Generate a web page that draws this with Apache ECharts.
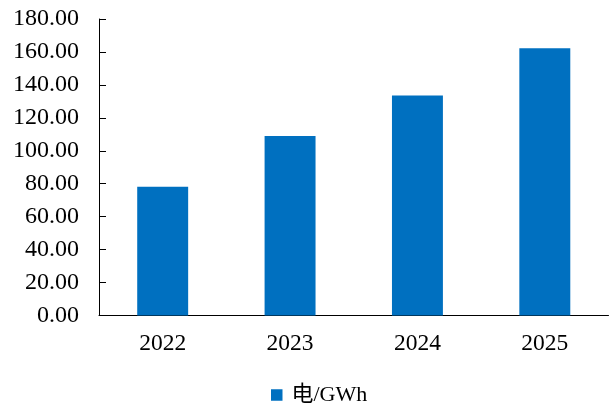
<!DOCTYPE html>
<html>
<head>
<meta charset="utf-8">
<script src="https://cdn.jsdelivr.net/npm/echarts@6/dist/echarts.min.js"></script>
<style>
  html, body { margin: 0; padding: 0; background: #fff; }
  #chart { width: 614px; height: 408px; }
</style>
</head>
<body>
<div id="chart"></div>
<script>
// Yearly electricity figures (GWh)
const years = ['2022', '2023', '2024', '2025'];
const power = [78.2, 109.0, 133.5, 162.2];
const seriesName = '电/GWh';
const yMin = 0, yMax = 180, yStep = 20;

const serif = '"Liberation Serif", "Times New Roman", "Noto Sans CJK SC", serif';
const chart = echarts.init(document.getElementById('chart'), null, { renderer: 'canvas' });

chart.setOption({
  animation: false,
  backgroundColor: '#ffffff',
  grid: { left: 99, right: 5.5, top: 19, bottom: 92.5, containLabel: false },
  legend: {
    data: [seriesName],
    left: 271,
    top: 384,
    padding: 0,
    icon: 'rect',
    itemWidth: 11.5,
    itemHeight: 11.5,
    textStyle: { fontFamily: serif, fontSize: 22, color: '#000', padding: [0, 0, 0, 4] }
  },
  xAxis: {
    type: 'category',
    data: years,
    boundaryGap: true,
    axisLine: { lineStyle: { color: '#000', width: 1 } },
    axisTick: { inside: true, length: 7, lineStyle: { color: '#000' } },
    axisLabel: { fontFamily: serif, fontSize: 23.5, color: '#000', margin: 17 }
  },
  yAxis: {
    type: 'value',
    min: yMin,
    max: yMax,
    interval: yStep,
    splitLine: { show: false },
    axisLine: { show: true, lineStyle: { color: '#000', width: 1 } },
    axisTick: { show: true, inside: true, length: 7, lineStyle: { color: '#000' } },
    axisLabel: {
      fontFamily: serif, fontSize: 24, color: '#000', margin: 20,
      formatter: v => v.toFixed(2)
    }
  },
  series: [{
    name: seriesName,
    type: 'bar',
    data: power,
    barWidth: '40%',
    itemStyle: { color: '#0070C0' }
  }]
});
</script>
</body>
</html>
